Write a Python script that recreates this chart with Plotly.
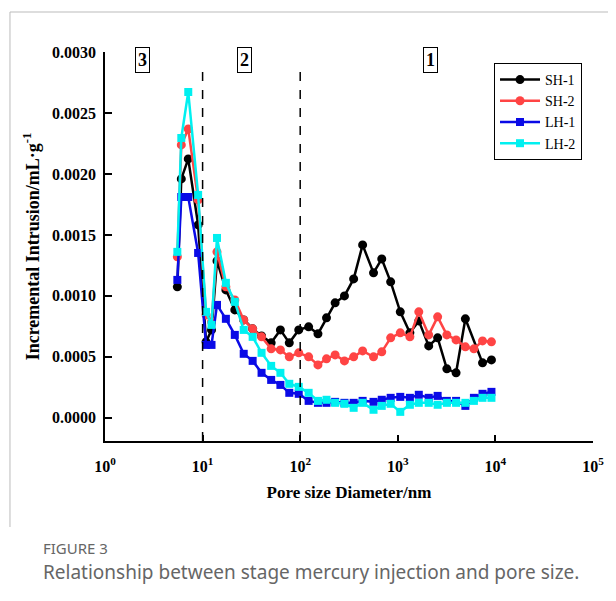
import plotly.graph_objects as go

# ---------------- data ----------------
diameter_nm = [5.51, 6.05, 7.13, 9.00, 10.85, 12.34, 14.04, 17.32, 21.38, 26.38,
               32.56, 40.19, 50.4, 62.7, 77.3, 96.6, 122, 152, 186, 228,
               284, 353, 436, 564, 685, 845, 1060, 1330, 1641, 2074,
               2560, 3181, 3954, 4924, 6023, 7379, 9108]

sh1 = [0.001074, 0.001959, 0.002123, 0.001582, 0.000623, 0.000721, 0.001287, 0.001049, 0.000885, 0.000803,
       0.000730, 0.000672, 0.000615, 0.000721, 0.000615, 0.000721, 0.000746, 0.000689, 0.000820, 0.000943,
       0.001000, 0.001139, 0.001418, 0.001189, 0.001303, 0.001115, 0.000869, 0.000697, 0.000795, 0.000590,
       0.000656, 0.000402, 0.000369, 0.000812, None, 0.000451, 0.000475]

sh2 = [0.001320, 0.002238, 0.002369, 0.001787, 0.000844, 0.000787, 0.001361, 0.001074, 0.000967, 0.000803,
       0.000730, 0.000664, 0.000566, 0.000557, 0.000500, 0.000533, 0.000500, 0.000434, 0.000484, 0.000516,
       0.000467, 0.000500, 0.000549, 0.000500, 0.000541, 0.000656, 0.000697, 0.000664, 0.000869, 0.000680,
       0.000828, 0.000680, 0.000639, 0.000582, 0.000566, 0.000631, 0.000623]

lh1 = [0.001131, 0.001811, 0.001811, 0.001352, 0.000598, 0.000598, 0.000926, 0.000812, 0.000680, 0.000525,
       0.000467, 0.000369, 0.000311, 0.000270, 0.000205, 0.000197, 0.000139, 0.000123, 0.000123, 0.000131,
       0.000123, 0.000123, 0.000139, 0.000131, 0.000148, 0.000164, 0.000172, 0.000164, 0.000189, 0.000164,
       0.000180, 0.000139, 0.000139, 0.000098, 0.000164, 0.000197, 0.000213]

lh2 = [0.001361, 0.002295, 0.002672, 0.001828, 0.000869, 0.000762, 0.001475, 0.001107, 0.000951, 0.000721,
       0.000664, 0.000533, 0.000426, 0.000369, 0.000279, 0.000254, 0.000205, 0.000139, 0.000148, 0.000123,
       0.000115, 0.000082, 0.000123, 0.000066, 0.000098, 0.000115, 0.000049, 0.000107, 0.000123, 0.000123,
       0.000107, 0.000123, 0.000123, 0.000123, 0.000139, 0.000164, 0.000164]

series_names = ["SH-1", "SH-2", "LH-1", "LH-2"]
series_values = [sh1, sh2, lh1, lh2]
series_colors = ["#000000", "#FF4444", "#0A0AE6", "#00F0F0"]
series_symbols = ["circle", "circle", "square", "square"]

x_tick_vals = [1, 10, 100, 1000, 10000, 100000]
x_tick_text = ["<b>10<sup>0</sup></b>", "<b>10<sup>1</sup></b>", "<b>10<sup>2</sup></b>",
               "<b>10<sup>3</sup></b>", "<b>10<sup>4</sup></b>", "<b>10<sup>5</sup></b>"]
y_tick_vals = [0.0, 0.0005, 0.0010, 0.0015, 0.0020, 0.0025, 0.0030]

stage_boundaries = [10, 100]
stage_labels = ["3", "2", "1"]

# ---------------- layout helpers ----------------
OFF = 8                      # page body margin of the browser
W, H = 616 - OFF, 601 - OFF
ML, MR, MT, MB = 97, 18, 44, 160
PW, PH = W - ML - MR, H - MT - MB
Y_MIN, Y_MAX = -0.00019, 0.0030
DASH_TOP = 0.00284


def px_x(px):
    """reference-screen x pixel -> paper coordinate"""
    return (px - OFF - ML) / PW


def px_y(py):
    """reference-screen y pixel -> paper coordinate"""
    return (H - MB - (py - OFF)) / PH


SERIF = "Liberation Serif, Times New Roman, serif"

fig = go.Figure()

for name, vals, col, sym in zip(series_names, series_values, series_colors, series_symbols):
    fig.add_trace(go.Scatter(
        x=diameter_nm, y=vals, name=name, mode="lines+markers",
        connectgaps=True,
        line=dict(color=col, width=2.5),
        marker=dict(symbol=sym, size=9 if sym == "circle" else 8, color=col),
        cliponaxis=False,
    ))

for b in stage_boundaries:
    fig.add_trace(go.Scatter(
        x=[b, b], y=[Y_MIN, DASH_TOP], mode="lines", showlegend=False,
        line=dict(color="black", width=1.5, dash="dash"), hoverinfo="skip",
    ))

fig.update_xaxes(
    type="log", range=[0, 5], tickvals=x_tick_vals, ticktext=x_tick_text,
    ticks="inside", ticklen=6, tickwidth=1.5, tickcolor="black",
    showline=True, linecolor="black", linewidth=1.5, showgrid=False, zeroline=False,
    tickfont=dict(family=SERIF, size=16, color="black"), ticklabelstandoff=10,
    title=dict(text="<b>Pore size Diameter/nm</b>", font=dict(family=SERIF, size=17, color="black"),
               standoff=12),
)
fig.update_yaxes(
    range=[Y_MIN, Y_MAX], tickvals=y_tick_vals, tickformat=".4f",
    ticks="inside", ticklen=7, tickwidth=1.5, tickcolor="black",
    showline=True, linecolor="black", linewidth=1.5, showgrid=False, zeroline=False,
    tickfont=dict(family=SERIF, size=16, color="black", weight="bold"), ticklabelstandoff=4,
    title=dict(text="<b>Incremental Intrusion/mL·g<sup>-1</sup></b>",
               font=dict(family=SERIF, size=18, color="black"), standoff=8),
)

annotations = []
for lab, xp in zip(stage_labels, [143, 246, 434]):
    annotations.append(dict(
        x=px_x(xp), y=px_y(60), xref="paper", yref="paper", text="<b>%s</b>" % lab,
        showarrow=False, font=dict(family=SERIF, size=18, color="black"),
        bordercolor="black", borderwidth=1, borderpad=2, bgcolor="white",
        xanchor="center", yanchor="middle",
    ))

annotations.append(dict(
    x=px_x(40), y=px_y(548), xref="paper", yref="paper", text="FIGURE 3",
    showarrow=False, xanchor="left", yanchor="middle",
    font=dict(family="Noto Sans, sans-serif", size=15, color="#666666"),
))
annotations.append(dict(
    x=px_x(40), y=px_y(572), xref="paper", yref="paper",
    text="Relationship between stage mercury injection and pore size.",
    showarrow=False, xanchor="left", yanchor="middle",
    font=dict(family="Noto Sans, sans-serif", size=19, color="#666666"),
))

shapes = [
    dict(type="line", xref="paper", yref="paper", x0=px_x(9), x1=px_x(620), y0=px_y(12), y1=px_y(12),
         line=dict(color="#BBBBBB", width=1)),
    dict(type="line", xref="paper", yref="paper", x0=px_x(9), x1=px_x(9), y0=px_y(12), y1=px_y(527),
         line=dict(color="#BBBBBB", width=1)),
]

fig.update_layout(
    width=W, height=H, margin=dict(l=ML, r=MR, t=MT, b=MB),
    paper_bgcolor="white", plot_bgcolor="white",
    showlegend=True,
    legend=dict(x=px_x(498), y=px_y(63), xanchor="left", yanchor="top",
                bordercolor="black", borderwidth=1, bgcolor="white", itemwidth=40,
                font=dict(family=SERIF, size=14, color="black"), tracegroupgap=0),
    annotations=annotations, shapes=shapes,
)

fig.write_html("out.html")
